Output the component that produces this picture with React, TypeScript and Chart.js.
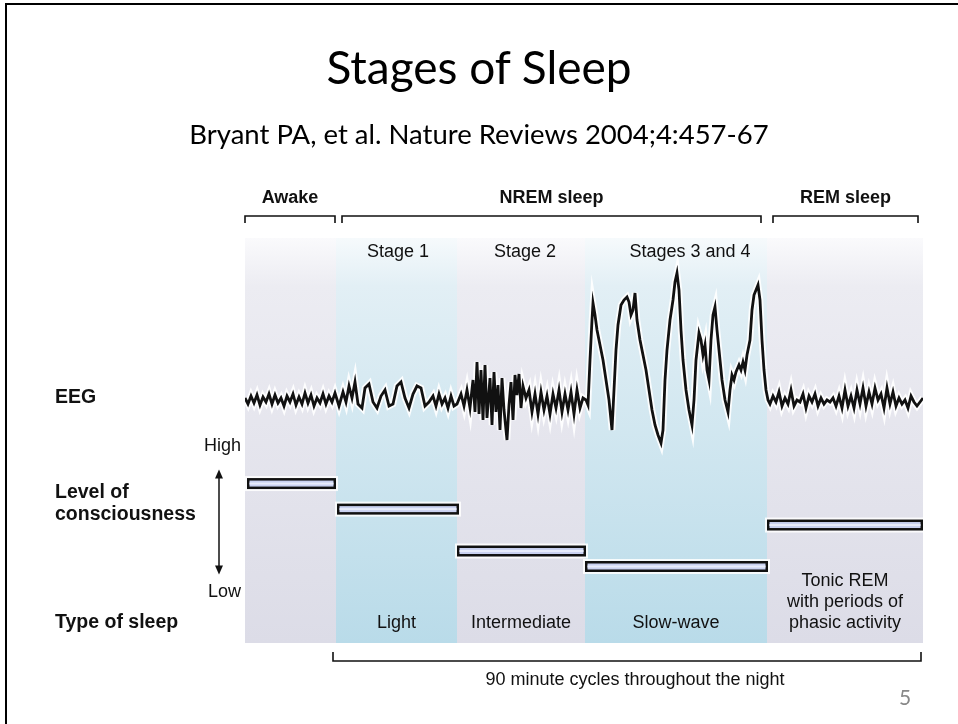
import React, { useEffect, useRef } from "react";
import { Chart, registerables } from "chart.js";

Chart.register(...registerables);

// ---- Data ----
const titleText = "Stages of Sleep";
const subtitleText = "Bryant PA, et al. Nature Reviews 2004;4:457-67";
const pageNumber = "5";

// Stage columns along time axis (data units)
const columnNames = ["Awake", "Stage 1", "Stage 2", "Stages 3 and 4", "REM"];
const columnEdges = [0, 91, 212, 340, 522, 678];
const columnTint = ["gray", "blue", "gray", "blue", "gray"];
const stageLabels = ["", "Stage 1", "Stage 2", "Stages 3 and 4", ""];
const stageLabelX = [0, 153, 280, 445, 0];

const groupLabels = ["Awake", "NREM sleep", "REM sleep"];
const groupFrom = [0, 97, 528];
const groupTo = [90, 516, 673];

const sleepTypeLines = [[""], ["Light"], ["Intermediate"], ["Slow-wave"], ["Tonic REM", "with periods of", "phasic activity"]];

// Level of consciousness (0 = Low, 100 = High)
const consciousness = [74.3, 56.8, 28.1, 17.5, 45.9];
const barStart = [2, 92, 212, 340, 522];
const barEnd = [91, 214, 341, 523, 678];

// EEG trace [time, amplitude]
const eegAwake: [number, number][] = [
  [0, 2], [3, -4], [6, 4], [9, -3], [12, 5], [15, -5], [18, 3], [21, -2], [24, 6], [27, -4],
  [30, 5], [33, -3], [36, 2], [39, -6], [42, 4], [45, -2], [48, 6], [51, -5], [54, 3], [57, -4],
  [60, 7], [63, -3], [66, 5], [69, -6], [72, 2], [75, -3], [78, 6], [81, -4], [84, 4], [87, -2], [90, 7],
];
const eegStage1: [number, number][] = [
  [94, -6], [98, 8], [101, -2], [104, 14], [107, 2], [110, 18], [113, -4], [117, -8], [120, 12], [124, 16],
  [128, -2], [132, -8], [136, 4], [140, 10], [144, -6], [148, -4], [152, 14], [156, 18], [160, 2], [164, -8],
  [168, 6], [172, 14], [176, 12], [180, -6], [184, -2], [188, 4], [191, -6], [194, 6], [197, -4], [200, 2],
  [203, -8], [206, 4], [209, -6],
];
const eegStage2: [number, number][] = [
  [212, -4], [216, 6], [219, -6], [222, 10], [225, -8], [228, 20], [230, -12], [232, 38], [234, -14], [236, 30],
  [238, -20], [240, 35], [242, -18], [245, 22], [247, -25], [249, 28], [251, -12], [253, 15], [255, -30], [257, 22],
  [259, -10], [262, -40], [264, -5], [266, 18], [268, -20], [270, 25], [272, 5], [274, 26], [276, -8], [278, 14],
  [281, 2], [284, 10], [287, -12], [290, 6], [293, -14], [296, 8], [299, -10], [302, 4], [305, -14], [308, 6],
  [311, -8], [314, 10], [317, -12], [320, 6], [323, -10], [326, 8], [329, -14], [332, 10], [335, -8], [338, 2],
];
const eegStage34: [number, number][] = [
  [341, 0], [343, -5], [345, 40], [347, 80], [348, 97], [350, 85], [352, 70], [355, 55], [358, 40], [361, 20],
  [364, 0], [367, -30], [369, 10], [371, 50], [373, 75], [376, 95], [379, 100], [382, 103], [384, 98], [386, 85],
  [388, 90], [390, 107], [392, 80], [395, 60], [398, 45], [401, 30], [404, 10], [407, -10], [410, -25], [413, -35],
  [416, -43], [418, -30], [420, 20], [422, 50], [425, 80], [428, 100], [430, 118], [432, 127], [434, 110], [436, 70],
  [438, 40], [441, 10], [444, -10], [447, -25], [449, 0], [451, 40], [454, 67], [456, 60], [458, 45], [460, 55],
  [462, 30], [464, 20], [466, 60], [468, 85], [470, 93], [472, 70], [474, 50], [477, 20], [480, 0], [483, -12],
  [485, 10], [487, 25], [489, 20], [491, 28], [494, 35], [496, 30], [498, 38], [500, 30], [502, 45], [505, 60],
  [507, 90], [509, 105], [511, 110], [513, 115], [515, 100], [517, 60], [519, 30], [521, 10], [523, 0],
];
const eegRem: [number, number][] = [
  [525, -4], [528, 4], [531, -2], [534, 8], [537, -6], [540, 2], [543, -4], [546, 10], [549, -6], [552, 0],
  [555, -2], [558, 6], [561, -8], [564, 4], [567, -2], [570, 6], [573, -6], [576, 2], [579, -4], [582, 0],
  [585, -2], [588, 2], [591, -6], [594, 4], [597, -8], [600, 10], [603, -6], [606, 4], [609, -8], [612, 10],
  [615, -4], [618, 12], [621, -6], [624, 8], [627, -4], [630, 12], [633, 0], [636, 6], [639, -8], [642, 12],
  [645, -4], [648, 8], [651, -6], [654, 2], [657, -4], [660, 0], [663, -8], [666, 4], [669, -2], [672, -6],
  [675, -2], [678, 2],
];

const eegAll = [...eegAwake, ...eegStage1, ...eegStage2, ...eegStage34, ...eegRem].map(([x, y]) => ({ x, y }));

const LABEL_FONT = '"Liberation Sans", Arial, sans-serif';

const figurePlugin = {
  id: "sleepFigure",
  beforeDatasetsDraw(chart: any) {
    const { ctx, chartArea, scales } = chart;
    const xs = scales.x;
    ctx.save();
    for (let i = 0; i < columnNames.length; i++) {
      const x0 = xs.getPixelForValue(columnEdges[i]);
      const x1 = xs.getPixelForValue(columnEdges[i + 1]);
      const g = ctx.createLinearGradient(0, chartArea.top, 0, chartArea.bottom);
      if (columnTint[i] === "blue") {
        g.addColorStop(0, "#f6fafc");
        g.addColorStop(0.12, "#e2eff5");
        g.addColorStop(1, "#b9dbe9");
      } else {
        g.addColorStop(0, "#fafafc");
        g.addColorStop(0.12, "#ececf2");
        g.addColorStop(1, "#dcdce7");
      }
      ctx.fillStyle = g;
      ctx.fillRect(x0, chartArea.top, x1 - x0, chartArea.bottom - chartArea.top);
    }
    ctx.restore();
  },
  afterDatasetsDraw(chart: any) {
    const { ctx, scales } = chart;
    const xs = scales.x;
    const ys = scales.y2;
    ctx.save();
    // consciousness bars
    for (let i = 0; i < consciousness.length; i++) {
      const x0 = xs.getPixelForValue(barStart[i]);
      const x1 = xs.getPixelForValue(barEnd[i]);
      const yc = ys.getPixelForValue(consciousness[i]);
      const h = 11;
      ctx.fillStyle = "rgba(255,255,255,0.85)";
      ctx.fillRect(x0 - 2, yc - h / 2 - 2, x1 - x0 + 4, h + 4);
      ctx.fillStyle = "#111";
      ctx.fillRect(x0, yc - h / 2, x1 - x0, h);
      ctx.fillStyle = "#c9d1f0";
      ctx.fillRect(x0 + 2.5, yc - h / 2 + 2.5, x1 - x0 - 5, h - 5);
      ctx.fillStyle = "#e8ecfb";
      ctx.fillRect(x0 + 2.5, yc - 1, x1 - x0 - 5, 2);
    }
    // top group brackets
    ctx.strokeStyle = "#111";
    ctx.lineWidth = 1.6;
    ctx.fillStyle = "#111";
    ctx.textAlign = "center";
    ctx.textBaseline = "middle";
    const bracketY = 216;
    for (let i = 0; i < groupLabels.length; i++) {
      const a = xs.getPixelForValue(groupFrom[i]);
      const b = xs.getPixelForValue(groupTo[i]);
      ctx.beginPath();
      ctx.moveTo(a, bracketY + 7);
      ctx.lineTo(a, bracketY);
      ctx.lineTo(b, bracketY);
      ctx.lineTo(b, bracketY + 7);
      ctx.stroke();
      ctx.font = "bold 18px " + LABEL_FONT;
      ctx.fillText(groupLabels[i], (a + b) / 2, 198);
    }
    // stage labels
    ctx.font = "18px " + LABEL_FONT;
    for (let i = 0; i < stageLabels.length; i++) {
      if (!stageLabels[i]) continue;
      ctx.fillText(stageLabels[i], xs.getPixelForValue(stageLabelX[i]), 252);
    }
    // type of sleep labels
    for (let i = 0; i < sleepTypeLines.length; i++) {
      const cx = (xs.getPixelForValue(columnEdges[i]) + xs.getPixelForValue(columnEdges[i + 1])) / 2;
      const lines = sleepTypeLines[i];
      for (let j = 0; j < lines.length; j++) {
        if (!lines[j]) continue;
        ctx.fillText(lines[j], cx, 623 - (lines.length - 1 - j) * 21);
      }
    }
    // left labels
    ctx.textAlign = "left";
    ctx.font = "bold 19.5px " + LABEL_FONT;
    ctx.fillText("EEG", 55, 398);
    ctx.fillText("Level of", 55, 493);
    ctx.fillText("consciousness", 55, 515);
    ctx.fillText("Type of sleep", 55, 623);
    ctx.textAlign = "right";
    ctx.font = "18px " + LABEL_FONT;
    ctx.fillText("High", 241, 446);
    ctx.fillText("Low", 241, 592);
    // arrow
    const ax = 219;
    const yHigh = ys.getPixelForValue(84);
    const yLow = ys.getPixelForValue(12);
    ctx.lineWidth = 1.5;
    ctx.beginPath();
    ctx.moveTo(ax, yHigh + 6);
    ctx.lineTo(ax, yLow - 6);
    ctx.stroke();
    ctx.beginPath();
    ctx.moveTo(ax, yHigh);
    ctx.lineTo(ax - 4, yHigh + 9);
    ctx.lineTo(ax + 4, yHigh + 9);
    ctx.closePath();
    ctx.fill();
    ctx.beginPath();
    ctx.moveTo(ax, yLow);
    ctx.lineTo(ax - 4, yLow - 9);
    ctx.lineTo(ax + 4, yLow - 9);
    ctx.closePath();
    ctx.fill();
    // bottom bracket
    const bx0 = xs.getPixelForValue(88);
    const bx1 = xs.getPixelForValue(676);
    const by = 661;
    ctx.lineWidth = 1.6;
    ctx.beginPath();
    ctx.moveTo(bx0, by - 9);
    ctx.lineTo(bx0, by);
    ctx.lineTo(bx1, by);
    ctx.lineTo(bx1, by - 9);
    ctx.stroke();
    ctx.textAlign = "center";
    ctx.font = "18px " + LABEL_FONT;
    ctx.fillText("90 minute cycles throughout the night", 635, 680);
    ctx.restore();
  },
};

export default function App() {
  const ref = useRef<HTMLCanvasElement | null>(null);
  useEffect(() => {
    document.body.style.margin = "0";
    const chart = new Chart(ref.current as HTMLCanvasElement, {
      type: "line",
      data: {
        datasets: [
          {
            data: eegAll,
            borderColor: "rgba(255,255,255,0.9)",
            borderWidth: 6.5,
            pointRadius: 0,
            tension: 0,
            order: 2,
          },
          {
            data: eegAll,
            borderColor: "#111",
            borderWidth: 2.8,
            pointRadius: 0,
            tension: 0,
            order: 1,
          },
        ],
      },
      options: {
        animation: false,
        responsive: false,
        layout: { padding: { left: 245, right: 35, top: 238, bottom: 81 } },
        plugins: { legend: { display: false }, tooltip: { enabled: false }, title: { display: false } },
        scales: {
          x: { type: "linear", min: 0, max: 678, display: false },
          y: { type: "linear", min: -243, max: 162, display: false },
          y2: { type: "linear", min: -34.9, max: 242.5, display: false, position: "right" },
        },
      },
      plugins: [figurePlugin],
    });
    return () => chart.destroy();
  }, []);

  return (
    <div style={{ position: "relative", width: 958, height: 724, background: "#fff", overflow: "hidden" }}>
      <div style={{ position: "absolute", left: 5, top: 3, right: -10, bottom: -10, borderLeft: "2px solid #000", borderTop: "2px solid #000" }} />
      <canvas ref={ref} width={958} height={724} style={{ position: "absolute", left: 0, top: 0 }} />
      <div style={{ position: "absolute", left: 0, width: 958, top: 41, textAlign: "center", fontFamily: "Lato, sans-serif", fontSize: 46, lineHeight: "52px", color: "#000" }}>
        {titleText}
      </div>
      <div style={{ position: "absolute", left: 0, width: 958, top: 117, textAlign: "center", fontFamily: "Lato, sans-serif", fontSize: 27.5, lineHeight: "33px", color: "#000" }}>
        {subtitleText}
      </div>
      <div style={{ position: "absolute", left: 899, top: 684, fontFamily: "Lato, sans-serif", fontSize: 21, color: "#888" }}>
        {pageNumber}
      </div>
    </div>
  );
}
